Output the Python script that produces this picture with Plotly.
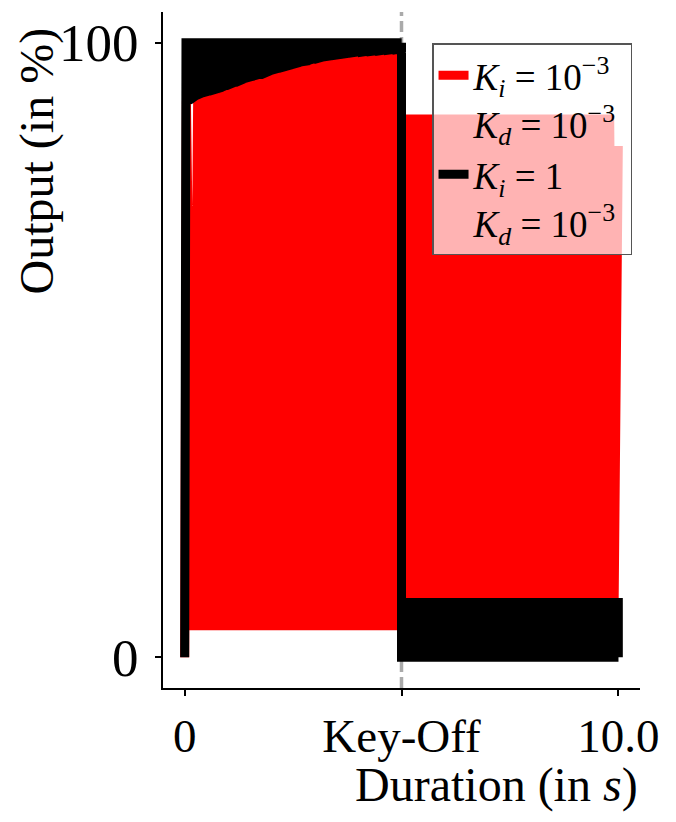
import plotly.graph_objects as go

# ---------------- data ----------------
# Red trace (K_i = 1e-3, K_d = 1e-3): zig-zag between turning points
red_start_t = [0.0]
red_start_v = [0.0]
# key-on phase
red_on_peak_t = [0.04, 0.3, 0.5, 0.7, 0.9, 1.1, 1.3, 1.5, 1.7, 1.9, 2.1, 2.3, 2.5,
                 2.7, 2.9, 3.1, 3.3, 3.5, 3.7, 3.9, 4.1, 4.3, 4.5, 4.7, 4.9]
red_on_peak_v = [90.6, 91.5, 92.0, 92.4, 92.9, 93.4, 93.9, 94.4, 94.8, 95.2, 95.7, 96.1, 96.5,
                 96.9, 97.2, 97.5, 97.8, 98.0, 98.2, 98.4, 98.5, 98.6, 98.7, 98.8, 98.9]
red_on_trough_t = [0.2, 0.4, 0.6, 0.8, 1.0, 1.2, 1.4, 1.6, 1.8, 2.0, 2.2, 2.4,
                   2.6, 2.8, 3.0, 3.2, 3.4, 3.6, 3.8, 4.0, 4.2, 4.4, 4.6, 4.8]
red_on_trough_v = [4.4, 4.4, 4.4, 4.4, 4.4, 4.4, 4.4, 4.4, 4.4, 4.4, 4.4, 4.4,
                   4.4, 4.4, 4.4, 4.4, 4.4, 4.4, 4.4, 4.4, 4.4, 4.4, 4.4, 4.4]
# key-off phase
red_off_trough_t = [5.1, 5.3, 5.5, 5.7, 5.9, 6.1, 6.3, 6.5, 6.7, 6.9, 7.1, 7.3, 7.5,
                    7.7, 7.9, 8.1, 8.3, 8.5, 8.7, 8.9, 9.1, 9.3, 9.5, 9.7, 9.9]
red_off_trough_v = [6.0, 6.0, 6.0, 6.0, 6.0, 6.0, 6.0, 6.0, 6.0, 6.0, 6.0, 6.0, 6.0,
                    6.0, 6.0, 6.0, 6.0, 6.0, 6.0, 6.0, 6.0, 6.0, 6.0, 6.0, 6.0]
red_off_peak_t = [5.2, 5.4, 5.6, 5.8, 6.0, 6.2, 6.4, 6.6, 6.8, 7.0, 7.2, 7.4, 7.6,
                  7.8, 8.0, 8.2, 8.4, 8.6, 8.8, 9.0, 9.2, 9.4, 9.6, 9.8, 10.0]
red_off_peak_v = [88.3, 88.3, 88.3, 88.3, 88.3, 88.3, 88.3, 88.3, 88.3, 88.3, 88.3, 88.3, 88.3,
                  88.3, 88.3, 88.3, 88.3, 88.3, 88.3, 88.3, 88.3, 88.3, 88.3, 88.3, 83.2]

# Black trace (K_i = 1, K_d = 1e-3): square-like pulses
black_start_t = [0.0, 0.03]
black_start_v = [0.0, 100.0]
black_on_high_v = 100.0
# switching instants during key-on and the lower level reached at each of them
black_on_switch_t = [0.1, 0.2, 0.3, 0.4, 0.5, 0.6, 0.7, 0.8, 0.9, 1.0,
                     1.1, 1.2, 1.3, 1.4, 1.5, 1.6, 1.7, 1.8, 1.9, 2.0,
                     2.1, 2.2, 2.3, 2.4, 2.5, 2.6, 2.7, 2.8, 2.9, 3.0,
                     3.1, 3.2, 3.3, 3.4, 3.5, 3.6, 3.7, 3.8, 3.9, 4.0,
                     4.1, 4.2, 4.3, 4.4, 4.5, 4.6, 4.7, 4.8, 4.9, 5.0]
black_on_low_v = [90.6, 91.1, 91.5, 91.8, 92.0, 92.2, 92.4, 92.6, 92.9, 93.2,
                  93.4, 93.7, 93.9, 94.2, 94.4, 94.6, 94.8, 95.0, 95.2, 95.5,
                  95.7, 95.9, 96.1, 96.3, 96.5, 96.7, 96.9, 97.0, 97.2, 97.4,
                  97.5, 97.7, 97.8, 97.9, 98.0, 98.1, 98.2, 98.3, 98.4, 98.5,
                  98.5, 98.6, 98.6, 98.7, 98.7, 98.8, 98.8, 98.9, 98.9, 99.0]
# key-off: pulses between 0 and an upper level
black_off_low_v = 0.0
black_off_switch_t = [5.1, 5.2, 5.3, 5.4, 5.5, 5.6, 5.7, 5.8, 5.9, 6.0,
                      6.1, 6.2, 6.3, 6.4, 6.5, 6.6, 6.7, 6.8, 6.9, 7.0,
                      7.1, 7.2, 7.3, 7.4, 7.5, 7.6, 7.7, 7.8, 7.9, 8.0,
                      8.1, 8.2, 8.3, 8.4, 8.5, 8.6, 8.7, 8.8, 8.9, 9.0,
                      9.1, 9.2, 9.3, 9.4, 9.5, 9.6, 9.7, 9.8, 9.9, 10.0]
black_off_high_v = [8.9, 8.9, 8.9, 8.9, 8.9, 8.9, 8.9, 8.9, 8.9, 8.9, 8.9, 8.9, 8.9,
                    8.9, 8.9, 8.9, 8.9, 8.9, 8.9, 8.9, 8.9, 8.9, 8.9, 8.9, 8.9]

x_tick_vals = [0, 5, 10]
x_tick_text = ["0", "Key-Off", "10.0"]
y_tick_vals = [0, 100]
y_tick_text = ["0", "100"]
key_off_t = 5.0

red_name = ("<i>K</i><sub><i>i</i></sub> = 10<sup>−3</sup><br>"
            "<i>K</i><sub><i>d</i></sub> = 10<sup>−3</sup>&nbsp;")
black_name = ("<i>K</i><sub><i>i</i></sub> = 1<br>"
              "<i>K</i><sub><i>d</i></sub> = 10<sup>−3</sup>&nbsp;")


def interleave(a, b):
    out = []
    for i in range(len(a)):
        out.append(a[i])
        if i < len(b):
            out.append(b[i])
    return out


red_t = (red_start_t + interleave(red_on_peak_t, red_on_trough_t)
         + interleave(red_off_trough_t, red_off_peak_t))
red_v = (red_start_v + interleave(red_on_peak_v, red_on_trough_v)
         + interleave(red_off_trough_v, red_off_peak_v))

black_t = list(black_start_t)
black_v = list(black_start_v)
for i in range(0, len(black_on_switch_t), 2):
    t1, t2 = black_on_switch_t[i], black_on_switch_t[i + 1]
    black_t += [t1, t1, t2, t2]
    black_v += [black_on_high_v, black_on_low_v[i], black_on_low_v[i + 1], black_on_high_v]
black_t += [key_off_t]
black_v += [black_off_low_v]
for i in range(0, len(black_off_switch_t), 2):
    t1, t2 = black_off_switch_t[i], black_off_switch_t[i + 1]
    h = black_off_high_v[i // 2]
    black_t += [t1, t1, t2, t2]
    black_v += [black_off_low_v, h, h, black_off_low_v]

FONT = "Liberation Serif"

fig = go.Figure()
fig.add_trace(go.Scatter(x=red_t, y=red_v, mode="lines", name=red_name,
                         line=dict(color="#ff0000", width=9, simplify=False)))
fig.add_trace(go.Scatter(x=black_t, y=black_v, mode="lines", name=black_name,
                         line=dict(color="#000000", width=9, simplify=False)))

fig.add_shape(type="line", x0=key_off_t, x1=key_off_t, xref="x", yref="paper", y0=0, y1=1,
              line=dict(color="#aaaaaa", width=3.5, dash="11px,5px"), layer="below")

fig.add_annotation(text="Duration (in <i>s</i>)", xref="paper", yref="paper",
                   x=1.0, y=-0.144, xanchor="right", yanchor="middle", showarrow=False,
                   font=dict(family=FONT, size=48, color="black"))
fig.add_annotation(text="Output (in %)", xref="paper", yref="paper", textangle=-90,
                   x=-0.264, y=0.779, xanchor="center", yanchor="middle", showarrow=False,
                   font=dict(family=FONT, size=48, color="black"))

fig.update_layout(
    width=660, height=806,
    margin=dict(l=155, r=28, t=4, b=126),
    plot_bgcolor="white", paper_bgcolor="white",
    font=dict(family=FONT, size=46, color="black"),
    showlegend=True,
    legend=dict(x=0.564, y=0.954, xanchor="left", yanchor="top",
                bgcolor="rgba(255,255,255,0.7)", bordercolor="#555555", borderwidth=1.5,
                font=dict(family=FONT, size=37, color="black"), valign="top",
                tracegroupgap=0),
    xaxis=dict(range=[-0.5, 10.5], tickvals=x_tick_vals, ticktext=x_tick_text,
               showline=True, linecolor="black", linewidth=2, mirror=False,
               ticks="outside", ticklen=6, tickwidth=2, tickcolor="black",
               showgrid=False, zeroline=False, tickfont=dict(family=FONT, size=47)),
    yaxis=dict(range=[-5, 105], tickvals=y_tick_vals, ticktext=y_tick_text,
               showline=True, linecolor="black", linewidth=2, mirror=False,
               ticks="outside", ticklen=6, tickwidth=2, tickcolor="black",
               ticklabelstandoff=6,
               showgrid=False, zeroline=False, tickfont=dict(family=FONT, size=53)),
)

fig.write_html("out.html")
